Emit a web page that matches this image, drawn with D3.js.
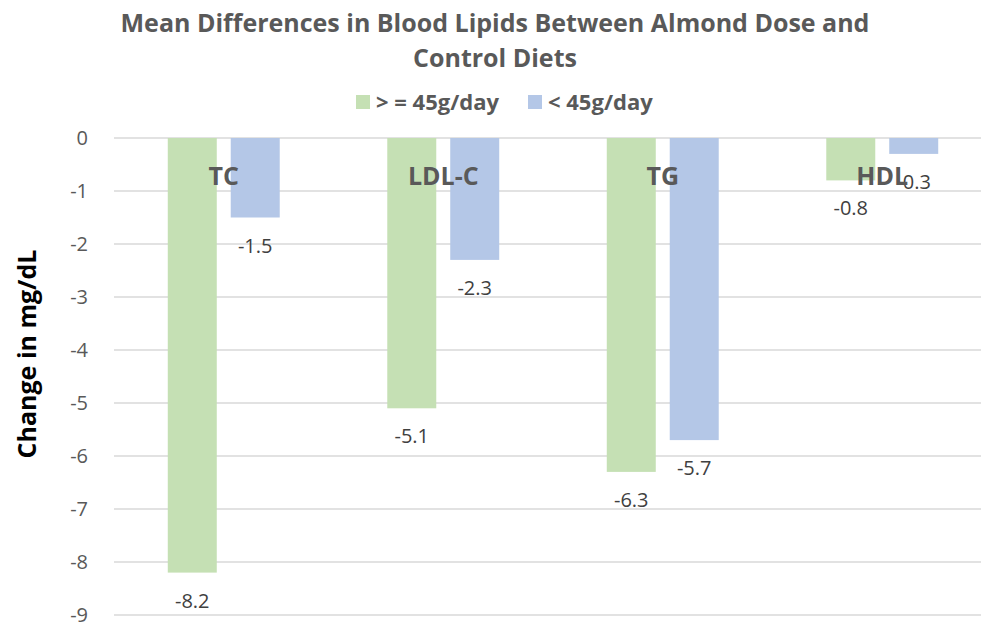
<!DOCTYPE html>
<html>
<head>
<meta charset="utf-8">
<script src="https://cdn.jsdelivr.net/npm/d3@7"></script>
<style>
  body { margin: 0; background: #fff; }
  svg { display: block; font-family: "Open Sans", Lato, sans-serif; }
</style>
</head>
<body>
<svg id="chart" width="981" height="622"></svg>
<script>
// chart values
var categories = ["TC", "LDL-C", "TG", "HDL"];
var seriesNames = ["> = 45g/day", "< 45g/day"];
var highDose = [-8.2, -5.1, -6.3, -0.8];
var lowDose = [-1.5, -2.3, -5.7, -0.3];
var yTicks = [0, -1, -2, -3, -4, -5, -6, -7, -8, -9];
var colors = ["#C5E0B4", "#B4C7E7"];

var svg = d3.select("#chart"),
    plotLeft = 114,
    plotRight = 992,
    plotTop = 138,
    plotBottom = 615;

var rows = categories.map(function(c, i) {
  return {cat: c, vals: [highDose[i], lowDose[i]]};
});

var x0 = d3.scaleBand()
    .domain(categories)
    .range([plotLeft, plotRight]);

var bw = x0.bandwidth();
var x1 = d3.scaleBand()
    .domain([0, 1])
    .range([bw * 0.245, bw * 0.755])
    .paddingInner(0.222);

var y = d3.scaleLinear()
    .domain([0, -9])
    .range([plotTop, plotBottom]);

// gridlines
svg.append("g")
  .selectAll("line")
  .data(yTicks)
  .enter().append("line")
    .attr("x1", plotLeft)
    .attr("x2", plotRight)
    .attr("y1", function(d) { return y(d); })
    .attr("y2", function(d) { return y(d); })
    .attr("stroke", "#D9D9D9")
    .attr("stroke-width", 1.3);

// y tick labels
svg.append("g")
  .selectAll("text")
  .data(yTicks)
  .enter().append("text")
    .attr("x", 88)
    .attr("y", function(d) { return y(d); })
    .attr("dy", "0.35em")
    .attr("text-anchor", "end")
    .attr("fill", "#595959")
    .style("font-size", "20px")
    .text(function(d) { return d; });

// bars
var group = svg.append("g")
  .selectAll("g")
  .data(rows)
  .enter().append("g")
    .attr("transform", function(d) { return "translate(" + x0(d.cat) + ",0)"; });

group.selectAll("rect")
  .data(function(d) { return d.vals.map(function(v, i) { return {i: i, v: v}; }); })
  .enter().append("rect")
    .attr("x", function(d) { return x1(d.i); })
    .attr("width", x1.bandwidth())
    .attr("y", y(0))
    .attr("height", function(d) { return y(d.v) - y(0); })
    .attr("fill", function(d) { return colors[d.i]; });

// category labels sit next to the zero axis
svg.append("g")
  .selectAll("text")
  .data(categories)
  .enter().append("text")
    .attr("x", function(d) { return x0(d) + bw / 2; })
    .attr("y", 185)
    .attr("text-anchor", "middle")
    .attr("fill", "#595959")
    .style("font-size", "25px")
    .style("font-weight", "bold")
    .text(function(d) { return d; });

// value labels
group.selectAll(".val")
  .data(function(d) { return d.vals.map(function(v, i) { return {i: i, v: v}; }); })
  .enter().append("text")
    .attr("class", "val")
    .attr("x", function(d) { return x1(d.i) + x1.bandwidth() / 2; })
    .attr("y", function(d) { return y(d.v) + 35; })
    .attr("text-anchor", "middle")
    .attr("fill", "#404040")
    .style("font-size", "20px")
    .text(function(d) { return d.v.toFixed(1); });

// title
svg.append("text")
    .attr("text-anchor", "middle")
    .attr("fill", "#595959")
    .style("font-size", "25px")
    .style("font-weight", "bold")
  .selectAll("tspan")
  .data(["Mean Differences in Blood Lipids Between Almond Dose and", "Control Diets"])
  .enter().append("tspan")
    .attr("x", 495)
    .attr("y", function(d, i) { return 32 + i * 35; })
    .text(function(d) { return d; });

// legend
var legendX = [356, 528];
var legend = svg.append("g")
  .selectAll("g")
  .data(seriesNames)
  .enter().append("g")
    .attr("transform", function(d, i) { return "translate(" + legendX[i] + ",102)"; });

legend.append("rect")
    .attr("x", 0)
    .attr("y", -7)
    .attr("width", 14)
    .attr("height", 14)
    .attr("fill", function(d, i) { return colors[i]; });

legend.append("text")
    .attr("x", 20)
    .attr("dy", "0.35em")
    .attr("fill", "#595959")
    .style("font-size", "22px")
    .style("font-weight", "bold")
    .text(function(d) { return d; });

// y axis title
svg.append("text")
    .attr("transform", "translate(36,354) rotate(-90)")
    .attr("text-anchor", "middle")
    .attr("fill", "#000")
    .style("font-size", "25px")
    .style("font-weight", "bold")
    .text("Change in mg/dL");
</script>
</body>
</html>
